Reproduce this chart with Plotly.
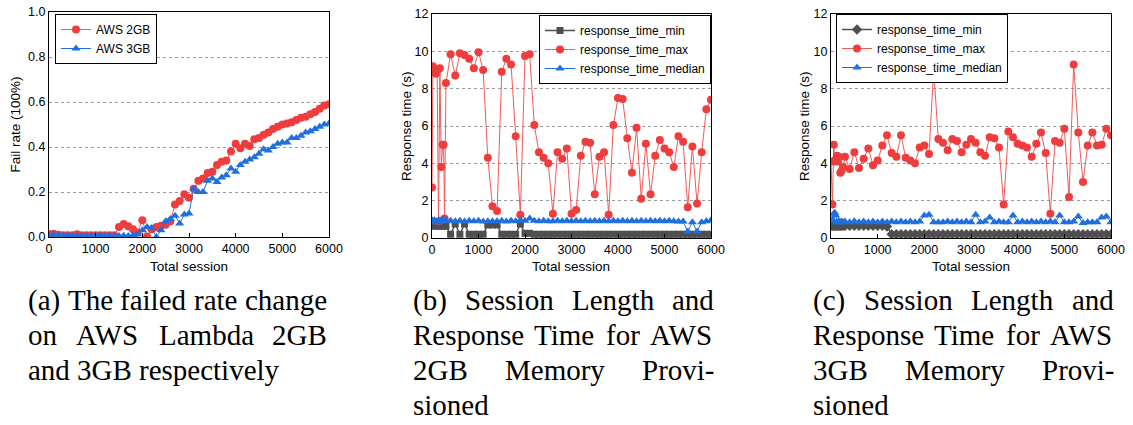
import plotly.graph_objects as go

W, H = 1133, 425

# ---------------- data ----------------
# (a) fail rate
sessions_a = list(range(0, 6001, 100))
fail_2gb = [0.012, 0.015, 0.010, 0.008, 0.008, 0.008, 0.012, 0.008, 0.008, 0.008,
            0.008, 0.008, 0.008, 0.008, 0.008,
            0.045, 0.058, 0.048, 0.035, 0.020, 0.075, 0.002, 0.035, 0.045, 0.050,
            0.055, 0.070, 0.145, 0.160, 0.190, 0.175, 0.215, 0.250, 0.260, 0.285,
            0.290, 0.320, 0.335, 0.340, 0.380, 0.415, 0.395, 0.415, 0.405, 0.435,
            0.440, 0.455, 0.465, 0.480, 0.490, 0.500, 0.505, 0.510, 0.520, 0.530,
            0.535, 0.545, 0.555, 0.570, 0.585, 0.590]
fail_3gb = [0.008, 0.010, 0.008, 0.006, 0.008, 0.006, 0.005, 0.006, 0.005, 0.006,
            0.005, 0.008, 0.005, 0.006, 0.005,
            0.005, 0.006, 0.005, 0.008, 0.012, 0.030, 0.045, 0.040, 0.000, 0.030,
            0.070, 0.080, 0.095, 0.060, 0.100, 0.105, 0.215, 0.200, 0.200, 0.250,
            0.260, 0.245, 0.265, 0.275, 0.305, 0.290, 0.320, 0.335, 0.345, 0.355,
            0.370, 0.390, 0.385, 0.400, 0.415, 0.420, 0.420, 0.440, 0.440, 0.450,
            0.465, 0.470, 0.480, 0.490, 0.500, 0.505]

# (b) AWS 2GB response time
sessions_b = [0, 20, 50, 80, 110, 140, 170, 200, 230, 250, 270, 300] + list(range(400, 6001, 100))
max_b = [2.7, 9.2, 8.9, 8.8, 9.0, 0.9, 9.1, 3.8, 5.0, 5.0, 1.05, 8.3,
         9.85, 8.7, 9.9, 9.8, 9.6, 9.1, 9.95, 9.0, 4.3, 1.7,
         1.45, 8.9, 9.6, 9.3, 5.45, 1.25, 9.75, 9.85, 6.05, 4.6,
         4.3, 4.0, 1.3, 4.6, 4.25, 4.8, 1.3, 1.5, 4.4, 5.15,
         5.1, 2.35, 4.35, 4.6, 1.25, 6.05, 7.5, 7.45, 5.35, 3.5,
         5.9, 2.1, 5.05, 2.35, 4.4, 5.25, 4.8, 4.6, 3.8, 5.45,
         5.15, 1.65, 4.9, 1.85, 4.6, 6.9, 7.4]
median_b = [0.95, 0.90, 0.95, 0.85, 0.90, 0.85, 0.95, 0.90, 1.00, 0.95, 0.95, 0.90,
            0.92, 0.90, 0.92, 0.88, 0.92, 0.90, 0.92, 0.88, 0.90, 0.90,
            0.90, 0.92, 0.88, 0.92, 0.90, 0.95, 0.92, 1.05, 0.92, 0.90,
            0.92, 0.90, 0.90, 0.92, 0.90, 0.92, 0.90, 0.92, 0.90, 0.92,
            0.90, 0.92, 0.90, 0.92, 0.90, 0.92, 0.90, 0.92, 0.90, 0.92,
            0.90, 0.92, 0.90, 0.92, 0.90, 0.92, 0.90, 0.92, 0.90, 0.88,
            0.88, 0.35, 0.85, 0.35, 0.85, 0.90, 0.95]
min_b = [0.65, 0.65, 0.65, 0.65, 0.65, 0.65, 0.65, 0.65, 0.65, 0.65, 0.65, 0.65,
         0.20, 0.75, 0.20, 0.75, 0.20, 0.20, 0.20, 0.20, 0.70, 0.70,
         0.70, 0.20, 0.20, 0.20, 0.20, 0.75, 0.25, 0.25, 0.20, 0.20,
         0.20, 0.20, 0.20, 0.20, 0.20, 0.20, 0.20, 0.20, 0.20, 0.20,
         0.20, 0.20, 0.20, 0.20, 0.20, 0.20, 0.20, 0.20, 0.20, 0.20,
         0.20, 0.20, 0.20, 0.20, 0.20, 0.20, 0.20, 0.20, 0.20, 0.20,
         0.20, 0.20, 0.20, 0.20, 0.20, 0.20, 0.20]

# (c) AWS 3GB response time
sessions_c = [0, 30, 60, 80, 100, 130, 150, 170, 200, 230, 260, 300] + list(range(400, 6001, 100))
max_c = [4.1, 1.8, 5.0, 4.1, 4.2, 4.4, 4.1, 4.35, 3.5, 3.6, 3.8, 4.35,
         3.7, 4.6, 3.75, 4.25, 4.8, 3.9, 4.15, 4.95, 5.5, 4.55,
         4.35, 5.5, 4.3, 4.15, 4.0, 4.85, 4.95, 4.5, 9.0, 5.3,
         5.1, 4.7, 5.3, 5.2, 4.6, 5.0, 5.3, 5.1, 4.6, 4.4,
         5.4, 5.35, 4.85, 1.8, 5.7, 5.4, 5.05, 4.95, 4.85, 4.35,
         5.05, 5.65, 4.55, 1.3, 5.2, 5.1, 5.85, 2.2, 9.3, 5.65,
         3.0, 4.95, 5.65, 4.95, 5.0, 5.85, 5.5]
median_c = [0.90, 1.00, 1.30, 1.35, 1.20, 0.85, 0.85, 0.90, 0.85, 0.88, 0.85, 0.88,
            0.85, 0.90, 0.85, 0.88, 0.85, 0.88, 0.85, 0.88, 0.85, 0.88,
            0.85, 0.88, 0.85, 0.88, 0.85, 0.88, 1.20, 1.25, 0.85, 0.85,
            0.85, 0.88, 0.85, 0.88, 0.85, 0.88, 0.85, 1.25, 0.85, 0.88,
            1.10, 0.85, 0.88, 0.85, 0.85, 1.20, 0.85, 0.88, 0.85, 0.88,
            0.85, 0.88, 0.85, 0.88, 0.85, 1.20, 0.85, 0.85, 0.88, 1.15,
            0.80, 0.85, 0.85, 0.85, 1.10, 1.15, 0.85]
min_c = [0.65, 0.65, 0.65, 0.65, 0.65, 0.65, 0.65, 0.65, 0.65, 0.65, 0.65, 0.65,
         0.65, 0.65, 0.65, 0.65, 0.65, 0.65, 0.65, 0.65, 0.62, 0.20,
         0.20, 0.20, 0.20, 0.20, 0.20, 0.20, 0.20, 0.20, 0.20, 0.20,
         0.20, 0.20, 0.20, 0.20, 0.20, 0.20, 0.20, 0.20, 0.20, 0.20,
         0.20, 0.20, 0.20, 0.20, 0.20, 0.20, 0.20, 0.20, 0.20, 0.20,
         0.20, 0.20, 0.20, 0.20, 0.20, 0.20, 0.20, 0.20, 0.20, 0.20,
         0.20, 0.20, 0.20, 0.20, 0.20, 0.20, 0.20]

x_ticks = [0, 1000, 2000, 3000, 4000, 5000, 6000]

captions = {
    "a": ["(a) The failed rate change", "on AWS Lambda 2GB", "and 3GB respectively"],
    "b": ["(b) Session Length and", "Response Time for AWS", "2GB Memory Provi-", "sioned"],
    "c": ["(c) Session Length and", "Response Time for AWS", "3GB Memory Provi-", "sioned"],
}

# ---------------- style ----------------
RED = "#F03C3C"
RED_LINE = "#F25A5A"
BLUE = "#1F6FE0"
GRAY = "#4F4F4F"
SANS = "Liberation Sans"
SERIF = "Liberation Serif"

# plot areas in pixels (left, right, top, bottom)
boxes = {
    "a": (49, 329, 12, 237),
    "b": (432, 711, 14, 238),
    "c": (831, 1111, 14, 238),
}


def dom(box):
    l, r, t, b = box
    return [l / W, r / W], [1 - b / H, 1 - t / H]


fig = go.Figure()

# panel a
fig.add_trace(go.Scatter(x=sessions_a, y=fail_2gb, name="AWS 2GB", mode="lines+markers",
                         line=dict(color=RED_LINE, width=1), marker=dict(symbol="circle", size=8, color=RED),
                         xaxis="x", yaxis="y", legend="legend"))
fig.add_trace(go.Scatter(x=sessions_a, y=fail_3gb, name="AWS 3GB", mode="lines+markers",
                         line=dict(color=BLUE, width=1), marker=dict(symbol="triangle-up", size=8, color=BLUE),
                         xaxis="x", yaxis="y", legend="legend"))

# panel b
fig.add_trace(go.Scatter(x=sessions_b, y=min_b, name="response_time_min", mode="lines+markers",
                         line=dict(color=GRAY, width=1.5), marker=dict(symbol="square", size=7, color=GRAY),
                         xaxis="x2", yaxis="y2", legend="legend2"))
fig.add_trace(go.Scatter(x=sessions_b, y=max_b, name="response_time_max", mode="lines+markers",
                         line=dict(color=RED_LINE, width=1), marker=dict(symbol="circle", size=8, color=RED),
                         xaxis="x2", yaxis="y2", legend="legend2"))
fig.add_trace(go.Scatter(x=sessions_b, y=median_b, name="response_time_median", mode="lines+markers",
                         line=dict(color=BLUE, width=1), marker=dict(symbol="triangle-up", size=8, color=BLUE),
                         xaxis="x2", yaxis="y2", legend="legend2"))

# panel c
fig.add_trace(go.Scatter(x=sessions_c, y=min_c, name="response_time_min", mode="lines+markers",
                         line=dict(color=GRAY, width=1.5), marker=dict(symbol="diamond", size=8, color=GRAY),
                         xaxis="x3", yaxis="y3", legend="legend3"))
fig.add_trace(go.Scatter(x=sessions_c, y=max_c, name="response_time_max", mode="lines+markers",
                         line=dict(color=RED_LINE, width=1), marker=dict(symbol="circle", size=8, color=RED),
                         xaxis="x3", yaxis="y3", legend="legend3"))
fig.add_trace(go.Scatter(x=sessions_c, y=median_c, name="response_time_median", mode="lines+markers",
                         line=dict(color=BLUE, width=1), marker=dict(symbol="triangle-up", size=8, color=BLUE),
                         xaxis="x3", yaxis="y3", legend="legend3"))

common_x = dict(range=[0, 6000], tickvals=x_ticks, showline=True, mirror=True, linecolor="black",
                linewidth=1, ticks="inside", ticklen=4, tickcolor="black", showgrid=False,
                zeroline=False, automargin=False, tickfont=dict(family=SANS, size=12.5, color="black"))
common_y = dict(showline=True, mirror=True, linecolor="black", linewidth=1, ticks="",
                showgrid=True, gridcolor="#9a9a9a", griddash="dot", gridwidth=1, automargin=False,
                zeroline=False, tickfont=dict(family=SANS, size=12.5, color="black"))

layout = {}
for key, xa, ya, yr, dt, fmt in [("a", "xaxis", "yaxis", [0, 1], 0.2, ".1f"),
                                 ("b", "xaxis2", "yaxis2", [0, 12], 2, "d"),
                                 ("c", "xaxis3", "yaxis3", [0, 12], 2, "d")]:
    xd, yd = dom(boxes[key])
    anchor_y = "y" if key == "a" else ("y2" if key == "b" else "y3")
    anchor_x = "x" if key == "a" else ("x2" if key == "b" else "x3")
    layout[xa] = dict(common_x, domain=xd, anchor=anchor_y)
    layout[ya] = dict(common_y, domain=yd, anchor=anchor_x, range=yr, dtick=dt, tickformat=fmt)

fig.update_layout(**layout)

leg = dict(xanchor="left", yanchor="top", bgcolor="white", bordercolor="black", borderwidth=1,
           font=dict(family=SANS, size=12, color="black"), tracegroupgap=0)
fig.update_layout(
    template="none",
    width=W, height=H, margin=dict(l=0, r=0, t=0, b=0, autoexpand=False),
    paper_bgcolor="white", plot_bgcolor="white", hovermode=False,
    legend=dict(leg, x=55 / W, y=1 - 14 / H),
    legend2=dict(leg, x=539 / W, y=1 - 15 / H),
    legend3=dict(leg, x=836 / W, y=1 - 14 / H),
)

annotations = []
# axis titles
for key, ytitle, xoff in [("a", "Fail rate (100%)", 34), ("b", "Response time (s)", 25), ("c", "Response time (s)", 26)]:
    l, r, t, b = boxes[key]
    annotations.append(dict(text="Total session", x=(l + r) / 2 / W, y=1 - 266 / H, xref="paper", yref="paper",
                            xanchor="center", yanchor="middle", showarrow=False,
                            font=dict(family=SANS, size=13.5, color="black")))
    annotations.append(dict(text=ytitle, x=(l - xoff) / W, y=1 - (t + b) / 2 / H, xref="paper", yref="paper",
                            xanchor="center", yanchor="middle", showarrow=False, textangle=-90,
                            font=dict(family=SANS, size=13.5, color="black")))

# captions (justified, Times metrics)
TW = {" ": 250, "(": 333, ")": 333, "-": 333, "2": 500, "3": 500,
      "A": 722, "B": 667, "G": 722, "L": 611, "M": 889, "P": 556, "R": 667, "S": 556, "T": 611, "W": 944,
      "a": 444, "b": 500, "c": 444, "d": 500, "e": 444, "f": 333, "g": 500, "h": 500, "i": 278, "l": 278,
      "m": 778, "n": 500, "o": 500, "p": 500, "r": 333, "s": 389, "t": 278, "v": 500, "y": 500}
FS = 29
cap_cols = {"a": (26, 325), "b": (411, 712), "c": (811, 1112)}
line_y = [300, 335, 370, 405]


def wwidth(w):
    return sum(TW.get(ch, 500) for ch in w) * FS / 1000.0


for key, lines in captions.items():
    L, R = cap_cols[key]
    for i, line in enumerate(lines):
        y = 1 - line_y[i] / H
        words = line.split(" ")
        last = (i == len(lines) - 1)
        if last or len(words) == 1:
            positions = []
            x = L
            for w in words:
                positions.append(x)
                x += wwidth(w) + wwidth(" ")
        else:
            total = sum(wwidth(w) for w in words)
            gap = (R - L - total) / (len(words) - 1)
            positions = []
            x = L
            for w in words:
                positions.append(x)
                x += wwidth(w) + gap
        for w, px in zip(words, positions):
            annotations.append(dict(text=w, x=px / W, y=y, xref="paper", yref="paper",
                                    xanchor="left", yanchor="middle", showarrow=False,
                                    font=dict(family=SERIF, size=FS, color="black")))

fig.update_layout(annotations=annotations)
fig.write_html("out.html", config={"displayModeBar": False},
               post_script="document.body.style.margin='0px';")
